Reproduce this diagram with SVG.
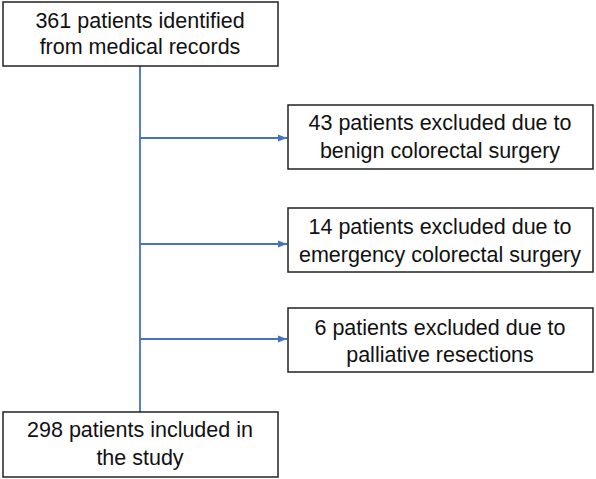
<svg xmlns="http://www.w3.org/2000/svg" width="596" height="479" viewBox="0 0 596 479">
<defs>
<style>
.box{fill:#fff;stroke:#222;stroke-width:1.5}
.t{font-family:"Liberation Sans",Arial,sans-serif;font-size:21.5px;fill:#111;text-anchor:middle}
.c{stroke:#4472C4;stroke-width:1.8;fill:none}
</style>
<marker id="ah" viewBox="0 0 10 10" refX="10" refY="5" markerWidth="5" markerHeight="5" orient="auto" markerUnits="strokeWidth">
<path d="M0,1 L10,5 L0,9 z" fill="#4472C4"/>
</marker>
</defs>
<rect width="596" height="479" fill="#fff"/>
<g id="connectors">
<line class="c" x1="140" y1="66" x2="140" y2="412"/>
<line class="c" x1="140" y1="138" x2="287" y2="138" marker-end="url(#ah)"/>
<line class="c" x1="140" y1="244" x2="287" y2="244" marker-end="url(#ah)"/>
<line class="c" x1="140" y1="339" x2="287" y2="339" marker-end="url(#ah)"/>
</g>
<g id="n1">
<rect class="box" x="3" y="2" width="275" height="64"/>
<text class="t" x="140" y="28">361 patients identified</text>
<text class="t" x="140" y="54">from medical records</text>
</g>
<g id="n2">
<rect class="box" x="288" y="105" width="305" height="64"/>
<text class="t" x="440" y="130">43 patients excluded due to</text>
<text class="t" x="440" y="158">benign colorectal surgery</text>
</g>
<g id="n3">
<rect class="box" x="288" y="208" width="305" height="64"/>
<text class="t" x="440" y="234">14 patients excluded due to</text>
<text class="t" x="440" y="262">emergency colorectal surgery</text>
</g>
<g id="n4">
<rect class="box" x="288" y="308" width="305" height="64"/>
<text class="t" x="440" y="335">6 patients excluded due to</text>
<text class="t" x="440" y="362">palliative resections</text>
</g>
<g id="n5">
<rect class="box" x="3" y="412" width="275" height="65"/>
<text class="t" x="140" y="437">298 patients included in</text>
<text class="t" x="140" y="465">the study</text>
</g>
</svg>
